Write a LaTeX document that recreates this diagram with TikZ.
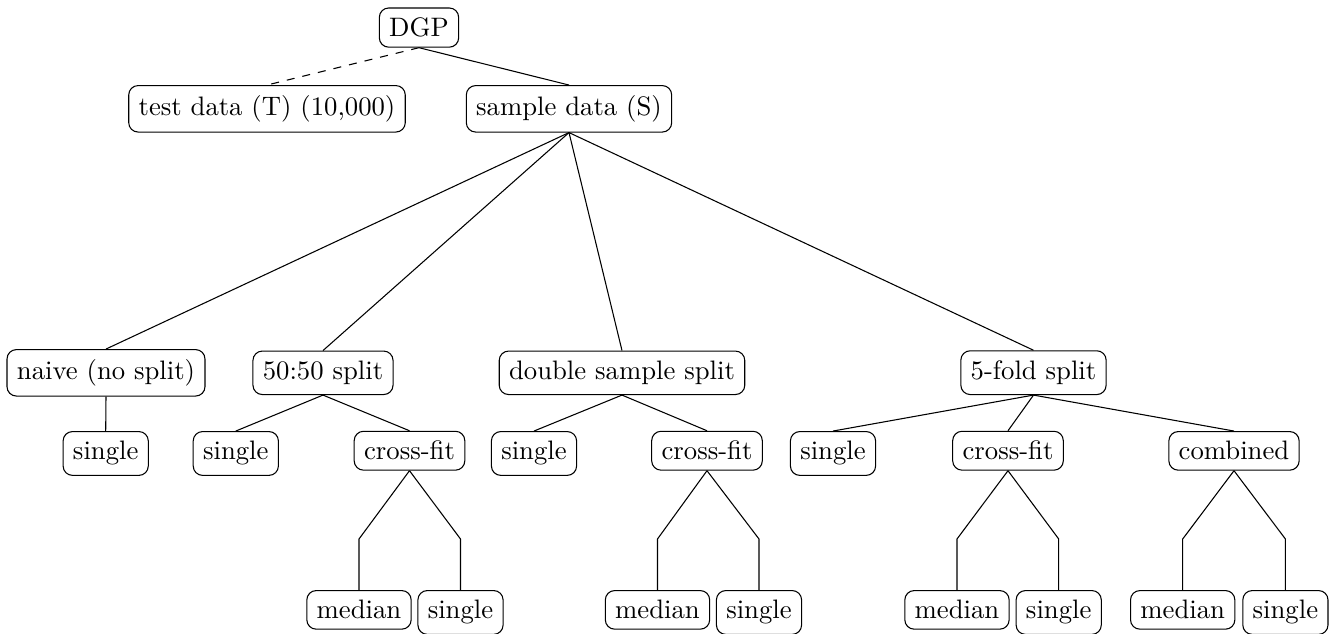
\documentclass[tikz,border=0pt]{standalone}
\begin{document}
\begin{tikzpicture}[x=0.3745pt,y=-0.3745pt,
  box/.style={draw,rounded corners=3.5pt,inner sep=3.7pt,anchor=base,line width=0.4pt},
  edge/.style={line width=0.4pt}]
\useasboundingbox (0,0) rectangle (1339,634);
% level 0
\node[box] (dgp) at (419,36.7) {DGP};
% level 1
\node[box] (test) at (267,115.5) {test data (T) (10,000)};
\node[box] (samp) at (569,115.5) {sample data (S)};
% level 2
\node[box] (naive) at (106,379.5) {naive (no split)};
\node[box] (fifty) at (323,379.5) {50:50 split};
\node[box] (dss) at (622,379.5) {double sample split};
\node[box] (five) at (1033.5,379.5) {5-fold split};
% level 3
\node[box] (s1) at (105.7,460) {single};
\node[box] (s2) at (235.8,460) {single};
\node[box] (cf1) at (409.5,460) {cross-fit};
\node[box] (s3) at (534,460) {single};
\node[box] (cf2) at (707,460) {cross-fit};
\node[box] (s4) at (833,460) {single};
\node[box] (cf3) at (1008,460) {cross-fit};
\node[box] (comb) at (1234,460) {combined};
% level 4
\node[box] (m1) at (359,619) {median};
\node[box] (t1) at (460.5,619) {single};
\node[box] (m2) at (657.5,619) {median};
\node[box] (t2) at (759,619) {single};
\node[box] (m3) at (957,619) {median};
\node[box] (t3) at (1058.7,619) {single};
\node[box] (m4) at (1182.7,619) {median};
\node[box] (t4) at (1285.4,619) {single};
% edges
\draw[edge,dashed] (dgp.south) -- (test.north);
\draw[edge] (dgp.south) -- (samp.north);
\foreach \c in {naive,fifty,dss,five}
  \draw[edge] (samp.south) -- (\c.north);
\draw[edge] (naive.south) -- (s1.north);
\draw[edge] (fifty.south) -- (s2.north);
\draw[edge] (fifty.south) -- (cf1.north);
\draw[edge] (dss.south) -- (s3.north);
\draw[edge] (dss.south) -- (cf2.north);
\draw[edge] (five.south) -- (s4.north);
\draw[edge] (five.south) -- (cf3.north);
\draw[edge] (five.south) -- (comb.north);
\foreach \p/\a/\b in {cf1/m1/t1,cf2/m2/t2,cf3/m3/t3,comb/m4/t4}{
  \draw[edge] (\p.south) -- (\a.north |- 0,539) -- (\a.north);
  \draw[edge] (\p.south) -- (\b.north |- 0,539) -- (\b.north);
}
\end{tikzpicture}
\end{document}
